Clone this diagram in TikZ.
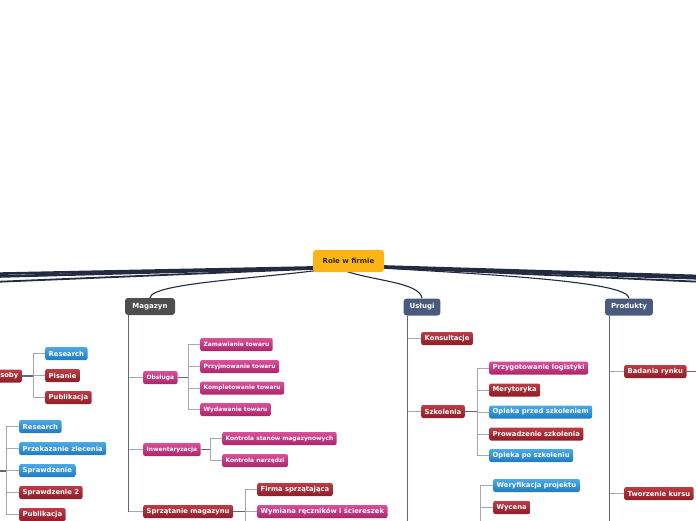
\documentclass[tikz,border=0pt]{standalone}
\usepackage{fontspec}
\usepackage{xcolor}
\usepackage{tikz}
\usetikzlibrary{positioning,calc,backgrounds}
\newfontfamily\mapfont{DejaVu Sans}
\definecolor{rootamber}{HTML}{FDB515}
\definecolor{rootink}{HTML}{2B2B2B}
\definecolor{storegray}{HTML}{4E4E4E}
\definecolor{slateblue}{HTML}{4A5A7C}
\definecolor{cardredtop}{HTML}{BC3C46}
\definecolor{cardredbot}{HTML}{8E1D27}
\definecolor{cardbluetop}{HTML}{4AAAE8}
\definecolor{cardbluebot}{HTML}{1E7BC3}
\definecolor{cardpinktop}{HTML}{D9509B}
\definecolor{cardpinkbot}{HTML}{AC2468}
\definecolor{boughnavy}{HTML}{222B40}
\definecolor{trunkgray}{HTML}{5E6679}
\definecolor{twiggray}{HTML}{A3A8B2}

\begin{document}
\begin{tikzpicture}[
    x=1pt, y=-1pt,
    rootbox/.style={
        rounded corners=3pt,
        fill=rootamber,
        text=rootink,
        minimum width=71pt,
        minimum height=22pt,
        font=\mapfont\bfseries\fontsize{7}{8}\selectfont
    },
    topic/.style={
        rounded corners=3pt,
        text=white,
        inner xsep=6pt,
        minimum height=17pt,
        font=\mapfont\bfseries\fontsize{7}{8}\selectfont
    },
    card/.style={
        rounded corners=2pt,
        text=white,
        anchor=west,
        inner xsep=3.5pt,
        inner ysep=0pt,
        minimum height=13pt,
        font=\mapfont\bfseries\fontsize{6.8}{8}\selectfont
    },
    redcard/.style={card, top color=cardredtop, bottom color=cardredbot},
    bluecard/.style={card, top color=cardbluetop, bottom color=cardbluebot},
    pinkcard/.style={card, top color=cardpinktop, bottom color=cardpinkbot},
    pinksmall/.style={pinkcard, font=\mapfont\bfseries\fontsize{5.9}{7}\selectfont},
    bough/.style={line width=2.6pt, boughnavy},
    branch/.style={line width=1.1pt, boughnavy},
    trunk/.style={line width=1.3pt, trunkgray},
    stem/.style={line width=1.1pt, trunkgray},
    twig/.style={line width=1pt, twiggray}
]

\clip (0,0) rectangle (696,520);
\useasboundingbox (0,0) rectangle (696,520);

\node[rootbox] (root) at (348.5,261) {Role w firmie};
\node[topic, fill=storegray, minimum width=50pt] (mag) at (150,306.5) {Magazyn};
\node[topic, fill=slateblue] (usl) at (422,307) {Usługi};
\node[topic, fill=slateblue] (prod) at (629,307) {Produkty};

\coordinate (farleft1) at (-20,274);
\coordinate (farleft2) at (-20,277);
\coordinate (farleft3) at (-20,282.5);
\coordinate (farright1) at (716,276.5);
\coordinate (farright2) at (716,279);
\coordinate (farright3) at (716,282.5);

\node[redcard, anchor=east, text width=34pt, align=right] (osoby) at (22,376) {soby};
\node[bluecard] (res1) at (45,353.5) {Research};
\node[redcard] (pis) at (45,375.5) {Pisanie};
\node[redcard] (pub1) at (45,397.5) {Publikacja};

\coordinate (lefthub) at (-20,471);
\node[bluecard] (res2) at (19,426.5) {Research};
\node[bluecard] (przek) at (19,448.5) {Przekazanie zlecenia};
\node[bluecard] (spr1) at (19,470.5) {Sprawdzenie};
\node[redcard] (spr2) at (19,492.5) {Sprawdzenie 2};
\node[redcard] (pub2) at (19,514.5) {Publikacja};

\node[pinksmall] (obs) at (143,377.5) {Obsługa};
\node[pinksmall] (inw) at (143,449.5) {Inwentaryzacja};
\node[redcard] (sprz) at (143,511.5) {Sprzątanie magazynu};

\node[pinksmall] (zam) at (200,344.5) {Zamawianie towaru};
\node[pinksmall] (przyj) at (200,366.5) {Przyjmowanie towaru};
\node[pinksmall] (kompl) at (200,388) {Kompletowanie towaru};
\node[pinksmall] (wyd) at (200,409.5) {Wydawanie towaru};

\node[pinksmall] (kstan) at (222,438.5) {Kontrola stanów magazynowych};
\node[pinksmall] (knarz) at (222,460.5) {Kontrola narzędzi};

\node[redcard] (firma) at (257,489.5) {Firma sprzątająca};
\node[pinkcard] (wym) at (257,511.5) {Wymiana ręczników i ściereszek};
\coordinate (sprzmore) at (257,540);

\node[redcard] (kons) at (421,338.5) {Konsultacje};
\node[redcard] (szk) at (421,411.5) {Szkolenia};
\coordinate (uslmore) at (421,540);

\node[pinkcard] (logi) at (489,368) {Przygotowanie logistyki};
\node[redcard] (meryt) at (489,390) {Merytoryka};
\node[bluecard] (przed) at (489,412) {Opieka przed szkoleniem};
\node[redcard] (prow) at (489,434) {Prowadzenie szkolenia};
\node[bluecard] (po) at (489,455.5) {Opieka po szkoleniu};

\coordinate (wychub) at (480,540);
\node[bluecard] (weryf) at (493,485.5) {Weryfikacja projektu};
\node[redcard] (wyc) at (493,507.5) {Wycena};

\node[redcard] (bad) at (624,371.5) {Badania rynku};
\node[redcard] (tworz) at (624,493.5) {Tworzenie kursu};
\coordinate (badmore) at (716,371.5);
\coordinate (prodmore) at (611,540);

\coordinate (osobyfork) at ($(osoby.east -| res1.west)+(-12,0)$);
\coordinate (leftfork) at ($(lefthub -| res2.west)+(-13,0)$);
\coordinate (magroot) at ([xshift=4pt]mag.south west);
\coordinate (obsfork) at ($(obs.east -| zam.west)+(-12,0)$);
\coordinate (inwfork) at ($(inw.east -| kstan.west)+(-12,0)$);
\coordinate (sprzfork) at ($(sprz.east -| firma.west)+(-12,0)$);
\coordinate (uslroot) at ([xshift=4pt]usl.south west);
\coordinate (szkfork) at ($(szk.east -| logi.west)+(-12,0)$);
\coordinate (prodroot) at ([xshift=5pt]prod.south west);

\begin{scope}[on background layer]
\draw[bough] ([xshift=-14pt,yshift=-6pt]root.center) -- (farleft1);
\draw[bough] ([xshift=-14pt,yshift=-6.5pt]root.center) -- (farleft2);
\draw[bough, line width=1.8pt] ([xshift=-14pt,yshift=-7pt]root.center) -- (farleft3);
\draw[bough] ([xshift=20pt,yshift=-5pt]root.center) -- (farright1);
\draw[bough] ([xshift=20pt,yshift=-5.5pt]root.center) -- (farright2);
\draw[bough, line width=1.8pt] ([xshift=20pt,yshift=-6pt]root.center) -- (farright3);

\draw[branch] ([xshift=-20pt,yshift=-8pt]root.center) .. controls (255,279) and (152,283) .. (mag.north);
\draw[branch] ([xshift=-6pt,yshift=-9pt]root.center) .. controls (372,281) and (420,282) .. (usl.north);
\draw[branch] ([xshift=32pt,yshift=-7pt]root.center) .. controls (520,276) and (628,283) .. (prod.north);
\end{scope}

\draw[twig] (osobyfork) |- (res1.west);
\draw[twig] (osobyfork) |- (pis.west);
\draw[twig] (osobyfork) |- (pub1.west);
\draw[stem] (osoby.east) -- (osobyfork);

\draw[twig] (leftfork) |- (res2.west);
\draw[twig] (leftfork) |- (przek.west);
\draw[twig] (leftfork) |- (spr1.west);
\draw[twig] (leftfork) |- (spr2.west);
\draw[twig] (leftfork) |- (pub2.west);
\draw[stem] (lefthub) -- (leftfork);

\draw[twig] (magroot) |- (obs.west);
\draw[twig] (magroot) |- (inw.west);
\draw[twig] (magroot) |- (sprz.west);
\draw[trunk] (magroot) -- (magroot |- sprz.west);

\draw[twig] (obsfork) |- (zam.west);
\draw[twig] (obsfork) |- (przyj.west);
\draw[twig] (obsfork) |- (kompl.west);
\draw[twig] (obsfork) |- (wyd.west);
\draw[stem] (obs.east) -- (obsfork);

\draw[twig] (inwfork) |- (kstan.west);
\draw[twig] (inwfork) |- (knarz.west);
\draw[stem] (inw.east) -- (inwfork);

\draw[twig] (sprzfork) |- (firma.west);
\draw[twig] (sprzfork) |- (wym.west);
\draw[twig] (sprzfork) -- (sprzfork |- sprzmore);
\draw[stem] (sprz.east) -- (sprzfork);

\draw[twig] (uslroot) |- (kons.west);
\draw[twig] (uslroot) |- (szk.west);
\draw[trunk] (uslroot) -- (uslroot |- uslmore);

\draw[twig] (szkfork) |- (logi.west);
\draw[twig] (szkfork) |- (meryt.west);
\draw[twig] (szkfork) |- (przed.west);
\draw[twig] (szkfork) |- (prow.west);
\draw[twig] (szkfork) |- (po.west);
\draw[stem] (szk.east) -- (szkfork);

\draw[twig] (wychub) |- (weryf.west);
\draw[twig] (wychub) |- (wyc.west);

\draw[twig] (prodroot) |- (bad.west);
\draw[twig] (prodroot) |- (tworz.west);
\draw[trunk] (prodroot) -- (prodroot |- prodmore);
\draw[stem] (bad.east) -- (badmore);

\end{tikzpicture}
\end{document}
